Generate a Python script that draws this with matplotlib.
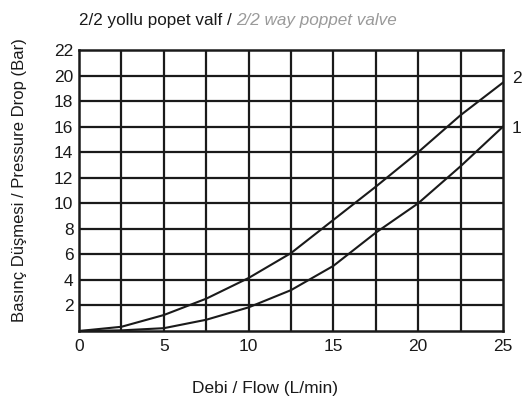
import matplotlib
matplotlib.use("Agg")
import matplotlib.pyplot as plt
from matplotlib import font_manager

names = {f.name for f in font_manager.fontManager.ttflist}
FONT = "Liberation Sans Narrow" if "Liberation Sans Narrow" in names else "Liberation Sans"
plt.rcParams['font.family'] = [FONT, 'DejaVu Sans']

flow = [0, 2.5, 5, 7.5, 10, 12.5, 15, 17.5, 20, 22.5, 25]
curve1 = [0, 0.05, 0.22, 0.88, 1.85, 3.2, 5.1, 7.7, 10.0, 12.9, 16.0]
curve2 = [0, 0.33, 1.25, 2.53, 4.15, 6.1, 8.7, 11.3, 14.0, 16.9, 19.45]
xticks = [0, 5, 10, 15, 20, 25]
yticks = [2, 4, 6, 8, 10, 12, 14, 16, 18, 20, 22]
curve_labels = ["1", "2"]

W, H = 528, 401
fig = plt.figure(figsize=(W / 100, H / 100), dpi=100)
left, right, top, bottom = 79, 503, 50, 331
ax = fig.add_axes([left / W, 1 - bottom / H, (right - left) / W, (bottom - top) / H])
ax.set_xlim(0, 25)
ax.set_ylim(0, 22)

for gx in [2.5 * i for i in range(1, 10)]:
    ax.axvline(gx, color='#1a1a1a', lw=1.6, zorder=1)
for gy in yticks[:-1]:
    ax.axhline(gy, color='#1a1a1a', lw=1.6, zorder=1)

ax.plot(flow, curve1, color='#1a1a1a', lw=1.5, zorder=3, solid_joinstyle='round')
ax.plot(flow, curve2, color='#1a1a1a', lw=1.5, zorder=3, solid_joinstyle='round')

for s in ax.spines.values():
    s.set_linewidth(1.8)
    s.set_color('#1a1a1a')

ax.set_xticks(xticks)
ax.set_yticks(yticks)
ax.tick_params(length=0, labelsize=12.5, labelcolor='#1a1a1a')
ax.tick_params(axis='x', pad=6)
ax.tick_params(axis='y', pad=4)

fig.text(265 / W, 1 - 388 / H, "Debi / Flow (L/min)", fontsize=12.5, va='center', ha='center', color='#1a1a1a')
fig.text(20 / W, 1 - 180 / H, "Basınç Düşmesi / Pressure Drop (Bar)", fontsize=12, va='center', ha='center',
         rotation=90, color='#1a1a1a')

ax.text(25.81, curve2[-1] + 0.35, curve_labels[1], fontsize=12.5, va='center', ha='center', color='#1a1a1a', clip_on=False)
ax.text(25.81, curve1[-1] - 0.18, curve_labels[0], fontsize=12.5, va='center', ha='center', color='#1a1a1a', clip_on=False)

t1 = fig.text(79 / W, 1 - 20 / H, "2/2 yollu popet valf / ", fontsize=12.3, va='center', ha='left', color='#1a1a1a')
fig.canvas.draw()
bb = t1.get_window_extent()
fig.text(bb.x1 / fig.bbox.width, 1 - 20 / H, "2/2 way poppet valve", fontsize=12.3, va='center', ha='left',
         color='#9a9a9a', style='italic')

fig.savefig("out.png", dpi=100)
